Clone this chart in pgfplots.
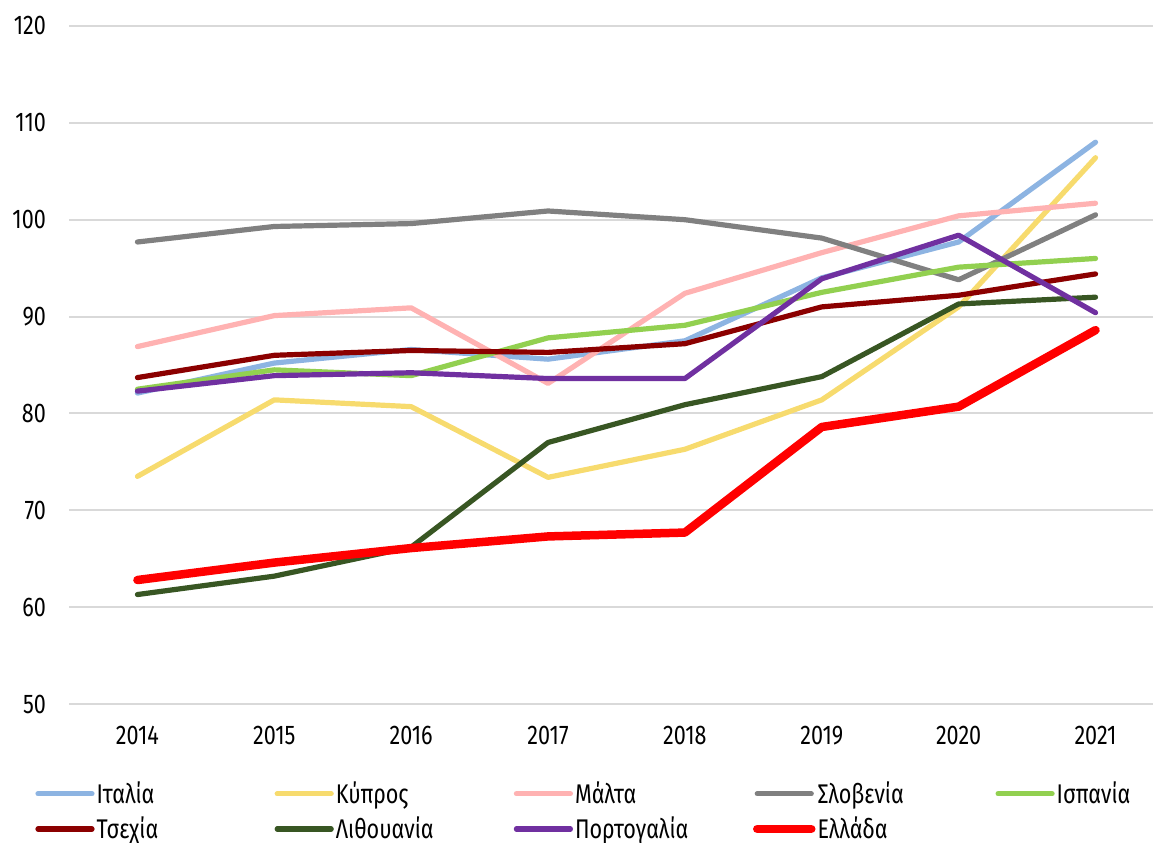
\documentclass[border=0pt]{standalone}
\usepackage{fontspec}
\setmainfont{Fira Sans}[FakeStretch=0.8]
\usepackage{pgfplots}
\pgfplotsset{compat=1.18}
\usetikzlibrary{calc}
\definecolor{cItalia}{RGB}{141,180,226}
\definecolor{cKypros}{RGB}{247,219,110}
\definecolor{cMalta}{RGB}{255,178,178}
\definecolor{cSlovenia}{RGB}{128,128,128}
\definecolor{cIspania}{RGB}{146,208,80}
\definecolor{cTsechia}{RGB}{139,0,0}
\definecolor{cLith}{RGB}{56,86,35}
\definecolor{cPort}{RGB}{112,48,160}
\definecolor{cEllada}{RGB}{255,0,0}
\definecolor{gridgray}{RGB}{217,217,217}
\begin{document}
\begin{tikzpicture}
\begin{axis}[
  name=ax,
  scale only axis,
  width=542pt, height=339pt,
  xmin=2013.5, xmax=2021.42,
  ymin=50, ymax=120,
  ytick={50,60,...,120},
  xtick={2014,2015,2016,2017,2018,2019,2020,2021},
  xticklabels={2014,2015,2016,2017,2018,2019,2020,2021},
  axis line style={draw=none},
  major tick length=0pt,
  ymajorgrids,
  grid style={color=gridgray, line width=1pt},
  /pgf/number format/assume math mode=true,
  tick label style={font=\fontsize{13.5}{15}\selectfont, text=black},
  yticklabel style={xshift=-8pt},
  xticklabel style={yshift=-7.5pt},
  no markers,
  every axis plot/.append style={line width=2.6pt, line join=round, line cap=round},
  legend columns=5,
  legend style={at={(0,0)}, anchor=north west, xshift=-17pt, yshift=-36.5pt,
    draw=none, fill=none, inner sep=0pt, row sep=1.2pt,
    font=\fontsize{13.5}{15}\selectfont, cells={anchor=west}},
  legend image code/.code={\draw[#1, line cap=round] (0pt,0pt) -- (27pt,0pt);},
]
\addplot[cItalia] coordinates {(2014,82.1) (2015,85.2) (2016,86.6) (2017,85.6) (2018,87.5) (2019,94.0) (2020,97.7) (2021,108.0)};
\addlegendentry{\hspace*{-1pt}\makebox[87pt][l]{Ιταλία}}
\addplot[cKypros] coordinates {(2014,73.5) (2015,81.4) (2016,80.7) (2017,73.4) (2018,76.3) (2019,81.4) (2020,91.0) (2021,106.4)};
\addlegendentry{\hspace*{-1pt}\makebox[87pt][l]{Κύπρος}}
\addplot[cMalta] coordinates {(2014,86.9) (2015,90.1) (2016,90.9) (2017,83.1) (2018,92.4) (2019,96.6) (2020,100.4) (2021,101.7)};
\addlegendentry{\hspace*{-1pt}\makebox[87pt][l]{Μάλτα}}
\addplot[cSlovenia] coordinates {(2014,97.7) (2015,99.3) (2016,99.6) (2017,100.9) (2018,100.0) (2019,98.1) (2020,93.8) (2021,100.5)};
\addlegendentry{\hspace*{-1pt}\makebox[87pt][l]{Σλοβενία}}
\addplot[cIspania] coordinates {(2014,82.5) (2015,84.5) (2016,83.9) (2017,87.8) (2018,89.1) (2019,92.5) (2020,95.1) (2021,96.0)};
\addlegendentry{\hspace*{-1pt}Ισπανία}
\addplot[cTsechia] coordinates {(2014,83.7) (2015,86.0) (2016,86.5) (2017,86.3) (2018,87.2) (2019,91.0) (2020,92.2) (2021,94.4)};
\addlegendentry{\hspace*{-1pt}\makebox[87pt][l]{Τσεχία}}
\addplot[cLith] coordinates {(2014,61.3) (2015,63.2) (2016,66.2) (2017,77.0) (2018,80.9) (2019,83.8) (2020,91.3) (2021,92.0)};
\addlegendentry{\hspace*{-1pt}\makebox[87pt][l]{Λιθουανία}}
\addplot[cPort] coordinates {(2014,82.3) (2015,83.9) (2016,84.2) (2017,83.6) (2018,83.6) (2019,93.9) (2020,98.4) (2021,90.4)};
\addlegendentry{\hspace*{-1pt}\makebox[87pt][l]{Πορτογαλία}}
\addplot[cEllada, line width=4.25pt] coordinates {(2014,62.8) (2015,64.6) (2016,66.1) (2017,67.3) (2018,67.7) (2019,78.6) (2020,80.7) (2021,88.6)};
\addlegendentry{\hspace*{-1pt}\makebox[87pt][l]{Ελλάδα}}
\end{axis}
\pgfresetboundingbox
\path ($(ax.south west)+(-34.5pt,-69.5pt)$) rectangle ($(ax.north east)+(0pt,13pt)$);
\end{tikzpicture}
\end{document}
